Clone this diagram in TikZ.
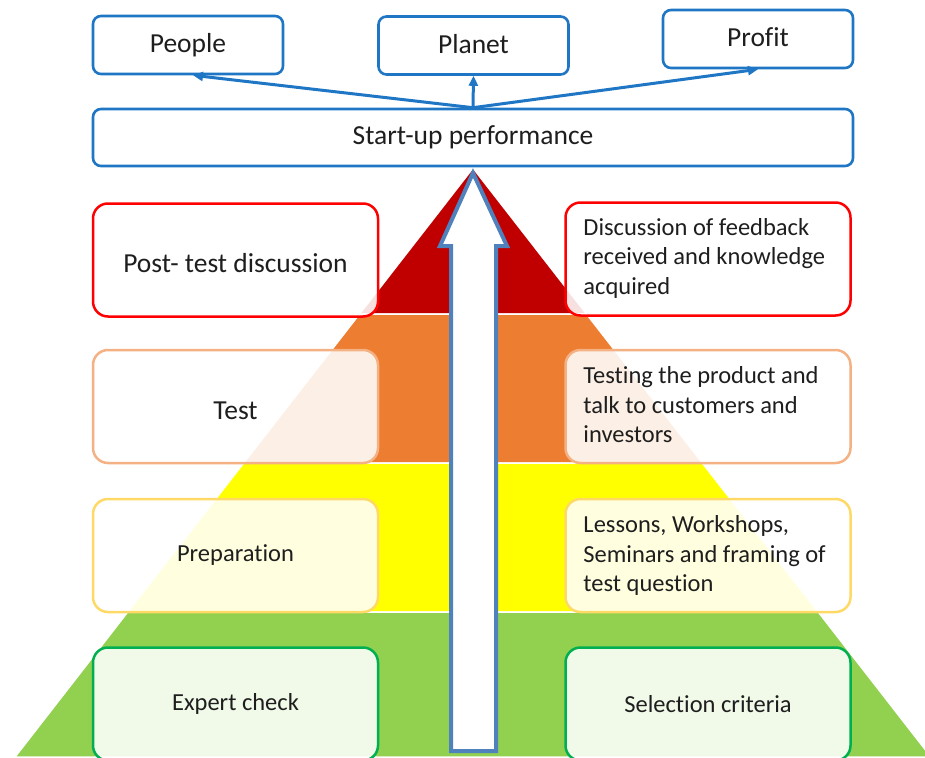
\documentclass[tikz,border=0pt]{standalone}
\usepackage{fontspec}
\setmainfont{Carlito}[Ligatures=NoCommon]
\usetikzlibrary{arrows.meta}

\definecolor{boxblue}{RGB}{31,118,196}
\definecolor{arrowblue}{RGB}{79,129,189}
\definecolor{ink}{RGB}{30,30,30}
\definecolor{bandred}{RGB}{192,0,0}
\definecolor{bandorange}{RGB}{237,125,49}
\definecolor{bandyellow}{RGB}{255,255,0}
\definecolor{bandgreen}{RGB}{146,208,80}
\definecolor{edgered}{RGB}{255,0,0}
\definecolor{edgeorange}{RGB}{244,177,131}
\definecolor{edgegold}{RGB}{255,217,102}
\definecolor{edgegreen}{RGB}{0,176,80}

\begin{document}
\begin{tikzpicture}[x=1pt,y=-1pt,
  bigfont/.style={font=\fontsize{27.5}{33}\selectfont},
  smallfont/.style={font=\fontsize{24.5}{29.5}\selectfont},
  topbox/.style={draw=boxblue, line width=2.6pt, rounded corners=8pt,
    fill=white, minimum width=190pt, minimum height=58pt, inner sep=0pt,
    text=ink, bigfont},
  sidebox/.style={line width=2.5pt, rounded corners=15pt, fill=white,
    fill opacity=0.88, text opacity=1, text=ink,
    minimum width=285pt, minimum height=113pt},
  notetext/.style={smallfont, text=ink, align=left, inner sep=0pt,
    anchor=west},
  conn/.style={draw=boxblue, line width=3pt,
    -{Triangle[length=10pt,width=9pt]}},
  band/.style={draw=white, line width=1.5pt}
]
\useasboundingbox (0,0) rectangle (925,757);
\clip (0,0) rectangle (925,757);

% pyramid, four coloured layers
\path[band, fill=bandred]    (473,168) -- (359.5,314) -- (586.5,314) -- cycle;
\path[band, fill=bandorange] (359.5,314) -- (243.6,463) -- (702.4,463) -- (586.5,314) -- cycle;
\path[band, fill=bandyellow] (243.6,463) -- (127.7,612) -- (818.3,612) -- (702.4,463) -- cycle;
\path[band, fill=bandgreen]  (127.7,612) -- (15,757) -- (931,757) -- (818.3,612) -- cycle;

% outcome boxes
\node[topbox] (people) at (188,45) {People};
\node[topbox, text depth=4pt] (planet) at (473.5,45.5) {Planet};
\node[topbox, text depth=4pt] (profit) at (758,39) {Profit};
\node[topbox, minimum width=760pt, minimum height=57pt] (perf) at (473,137.5) {Start-up performance};

\draw[conn] (perf.north) -- ([xshift=5pt]people.south);
\draw[conn] (perf.north) -- (planet.south);
\draw[conn] (perf.north) -- (profit.south);

% phases (left)
\node[sidebox, draw=edgered, bigfont, text height=25pt, text depth=0pt] (post) at (235.5,260) {Post- test discussion};
\node[sidebox, draw=edgeorange, bigfont, text height=26pt, text depth=0pt] (test) at (235.5,406.5) {Test};
\node[sidebox, draw=edgegold, smallfont] (prep) at (235.5,555.5) {Preparation};
\node[sidebox, draw=edgegreen, smallfont] (expert) at (235.5,704) {Expert check};

% contents of each phase (right)
\node[sidebox, draw=edgered] (feedback) at (708,259) {};
\node[sidebox, draw=edgeorange] (testing) at (708,406.5) {};
\node[sidebox, draw=edgegold] (lessons) at (708,555.5) {};
\node[sidebox, draw=edgegreen, smallfont] (criteria) at (708,704) {Selection criteria};

\node[notetext] (feedbacktext) at ([xshift=19pt,yshift=1pt]feedback.west)
  {Discussion of feedback\\received and knowledge\\acquired};
\node[notetext] (testingtext) at ([xshift=19pt,yshift=1.5pt]testing.west)
  {Testing the product and\\talk to customers and\\investors};
\node[notetext] (lessonstext) at ([xshift=19pt]lessons.west)
  {Lessons, Workshops,\\Seminars and framing of\\test question};

% upward block arrow through the pyramid
\draw[draw=arrowblue, fill=white, line width=4pt, line join=miter]
  (451,751) -- (451,246) -- (440,246) -- (473,173) -- (507,246)
  -- (496,246) -- (496,751) -- cycle;
\end{tikzpicture}
\end{document}
